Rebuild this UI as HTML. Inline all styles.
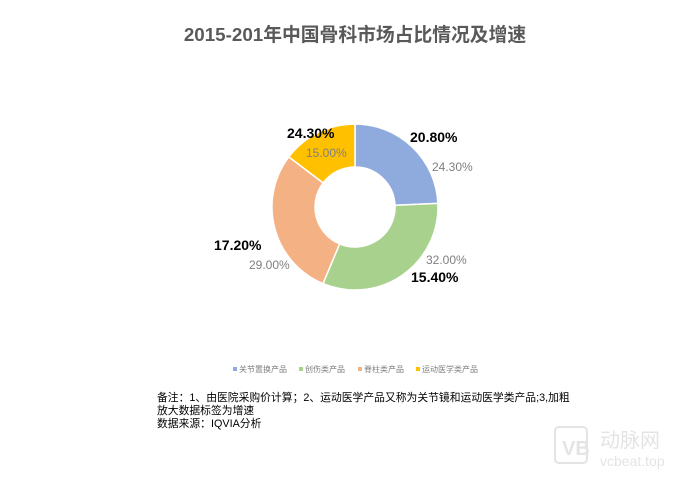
<!DOCTYPE html>
<html><head><meta charset="utf-8"><style>
body{margin:0;background:#fff;}
svg text{font-family:"Liberation Sans","Noto Sans CJK SC",sans-serif;}
</style></head><body>
<svg width="700" height="477" xmlns="http://www.w3.org/2000/svg">
<rect width="700" height="477" fill="#fff"/>
<text x="355" y="41" text-anchor="middle" font-size="18.8" font-weight="bold" fill="#595959">2015-201年中国骨科市场占比情况及增速</text>
<g stroke="#fff" stroke-width="1.5">
<path d="M355,124 A83,83 0 0 1 437.9,203.4 L395,205.3 A40,40 0 0 0 355,167 Z" fill="#8faadc"/>
<path d="M437.9,203.4 A83,83 0 0 1 323,283.6 L339.6,243.9 A40,40 0 0 0 395,205.3 Z" fill="#a9d18e"/>
<path d="M323,283.6 A83,83 0 0 1 288.8,156.9 L323.1,182.9 A40,40 0 0 0 339.6,243.9 Z" fill="#f4b183"/>
<path d="M288.8,156.9 A83,83 0 0 1 355,124 L355,167 A40,40 0 0 0 323.1,182.9 Z" fill="#ffc000"/>
</g>
<g font-size="14" font-weight="bold" fill="#000">
<text x="410" y="142">20.80%</text>
<text x="411" y="282">15.40%</text>
<text x="214" y="250">17.20%</text>
<text x="287" y="138">24.30%</text>
</g>
<g font-size="12" fill="#7f7f7f">
<text x="432" y="171">24.30%</text>
<text x="426" y="264">32.00%</text>
<text x="249" y="269">29.00%</text>
<text x="306" y="157">15.00%</text>
</g>
<g font-size="8" fill="#7f7f7f">
<rect x="233" y="367" width="4" height="4" fill="#8faadc"/><text x="239" y="372">关节置换产品</text>
<rect x="299" y="367" width="4" height="4" fill="#a9d18e"/><text x="305" y="372">创伤类产品</text>
<rect x="358" y="367" width="4" height="4" fill="#f4b183"/><text x="364" y="372">脊柱类产品</text>
<rect x="416" y="367" width="4" height="4" fill="#ffc000"/><text x="422" y="372">运动医学类产品</text>
</g>
<g font-size="10.8" fill="#000">
<text x="157" y="401">备注：1、由医院采购价计算；2、运动医学产品又称为关节镜和运动医学类产品;3,加粗</text>
<text x="157" y="414">放大数据标签为增速</text>
<text x="157" y="427">数据来源：IQVIA分析</text>
</g>
<g fill="none" stroke="#e4e4e4" stroke-width="2">
<rect x="555" y="427" width="32" height="36" rx="4"/>
</g>
<text x="562" y="455" font-size="20" font-weight="bold" fill="#e4e4e4">VB</text>
<text x="600" y="447" font-size="20" fill="#e4e4e4">动脉网</text>
<text x="600" y="466" font-size="14" fill="#e4e4e4">vcbeat.top</text>
</svg>
</body></html>
